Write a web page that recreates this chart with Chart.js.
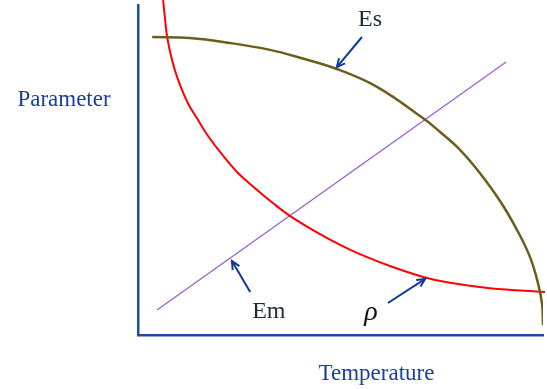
<!DOCTYPE html>
<html>
<head>
<meta charset="utf-8">
<script src="https://cdn.jsdelivr.net/npm/chart.js@4/dist/chart.umd.min.js"></script>
<style>
  html, body { margin: 0; padding: 0; background: #fff; }
  #wrap { width: 547px; height: 389px; position: relative; }
</style>
</head>
<body>
<div id="wrap"><canvas id="chart"></canvas></div>
<script>
// --- DATA (axis units 0..100) ---
const esTemp = [3.5, 12.8, 22.7, 32.6, 40.0, 49.1, 59.0, 70.6, 74.6, 79.5, 84.4, 89.4, 93.6, 96.8, 98.8, 99.8, 100];
const esValues = [90.3, 90.0, 88.5, 86.4, 84.0, 80.6, 75.2, 65.5, 61.5, 56.1, 49.1, 40.6, 31.8, 23.6, 15.5, 9.1, 3.0];

const rhoTemp = [6.2, 6.7, 7.2, 8.4, 9.9, 12.3, 14.8, 17.3, 20.7, 24.7, 28.9, 33.3, 37.5, 43.2, 49.9, 54.8, 62.2, 70.4, 77.0, 86.9, 100.5];
const rhoValues = [101.5, 95.5, 90.3, 83.3, 77.3, 70.3, 65.2, 60.3, 54.8, 49.1, 44.5, 40.0, 36.1, 31.8, 27.3, 24.5, 20.9, 17.6, 15.8, 14.2, 13.0];

const emTemp = [4.7, 90.9];
const emValues = [7.6, 82.7];

const xTitle = 'Temperature';
const yTitle = 'Parameter';

// labels with arrows: text spot, arrow tail, arrow tip (axis units)
const notes = [
    { text: 'Es', at: [57.3, 95.5], from: [55.3, 90.3], to: [49.1, 81.2], font: '24px "Liberation Serif"', color: '#1b2b3b' },
    { text: 'Em', at: [32.3, 7.0], from: [27.7, 13.0], to: [23.2, 22.4], font: '24px "Liberation Serif"', color: '#1b2b3b' },
    { text: 'ρ', at: [57.5, 6.7], from: [61.7, 9.7], to: [70.9, 17.0], font: 'italic 28px "Liberation Serif"', color: '#111' }
];

const AXIS_BLUE = '#1f4b9e';

function toPoints(xs, ys) {
    return xs.map((x, i) => ({ x: x, y: ys[i] }));
}

function drawArrow(ctx, x1, y1, x2, y2) {
    const ang = Math.atan2(y2 - y1, x2 - x1);
    const head = 9;
    ctx.beginPath();
    ctx.moveTo(x1, y1);
    ctx.lineTo(x2, y2);
    ctx.stroke();
    ctx.beginPath();
    ctx.moveTo(x2 - head * Math.cos(ang - 0.45), y2 - head * Math.sin(ang - 0.45));
    ctx.lineTo(x2, y2);
    ctx.lineTo(x2 - head * Math.cos(ang + 0.45), y2 - head * Math.sin(ang + 0.45));
    ctx.stroke();
}

const labelsPlugin = {
    id: 'labels',
    afterDraw(chart) {
        const ctx = chart.ctx;
        const xs = chart.scales.x, ys = chart.scales.y;
        const area = chart.chartArea;
        ctx.save();
        // axis titles
        ctx.fillStyle = '#1d3f9c';
        ctx.font = '23px "Liberation Serif"';
        ctx.textAlign = 'center';
        ctx.textBaseline = 'middle';
        ctx.fillText(yTitle, 64, 100);
        ctx.fillText(xTitle, (area.left + area.right) / 2 + 36, 374);

        // notes + arrows
        notes.forEach(n => {
            ctx.fillStyle = n.color;
            ctx.font = n.font;
            ctx.fillText(n.text, xs.getPixelForValue(n.at[0]), ys.getPixelForValue(n.at[1]));
            ctx.strokeStyle = '#0f3a9a';
            ctx.lineWidth = 2;
            drawArrow(ctx,
                xs.getPixelForValue(n.from[0]), ys.getPixelForValue(n.from[1]),
                xs.getPixelForValue(n.to[0]), ys.getPixelForValue(n.to[1]));
        });
        ctx.restore();
    }
};

new Chart(document.getElementById('chart'), {
    type: 'scatter',
    data: {
        datasets: [
            {
                label: 'Es',
                data: toPoints(esTemp, esValues),
                showLine: true,
                borderColor: '#6e5d1c',
                borderWidth: 2.5,
                pointRadius: 0,
                tension: 0.4
            },
            {
                label: 'rho',
                data: toPoints(rhoTemp, rhoValues),
                showLine: true,
                borderColor: '#ff0000',
                borderWidth: 2,
                pointRadius: 0,
                tension: 0.4,
                clip: false
            },
            {
                label: 'Em',
                data: toPoints(emTemp, emValues),
                showLine: true,
                borderColor: '#9a5fcf',
                borderWidth: 1.3,
                pointRadius: 0
            }
        ]
    },
    options: {
        responsive: true,
        maintainAspectRatio: false,
        animation: false,
        layout: { padding: { left: 138, right: 4, top: 5, bottom: 54 } },
        plugins: {
            legend: { display: false },
            tooltip: { enabled: false }
        },
        scales: {
            x: {
                type: 'linear', min: 0, max: 100,
                ticks: { display: false },
                grid: { display: true, drawOnChartArea: false, drawTicks: false },
                border: { color: AXIS_BLUE, width: 2.5 }
            },
            y: {
                type: 'linear', min: 0, max: 100,
                ticks: { display: false },
                grid: { display: true, drawOnChartArea: false, drawTicks: false },
                border: { color: AXIS_BLUE, width: 2.5 }
            }
        }
    },
    plugins: [labelsPlugin]
});
</script>
</body>
</html>
